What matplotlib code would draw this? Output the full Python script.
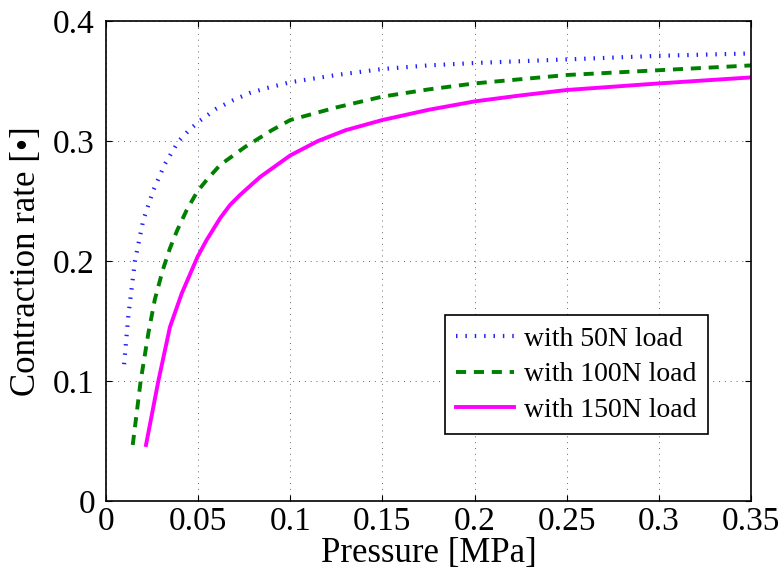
import matplotlib.pyplot as plt
import matplotlib.ticker as mticker

# values
x_50 = [0.0098, 0.0121, 0.0157, 0.0202, 0.0257, 0.032, 0.0392, 0.045, 0.051, 0.06, 0.069,
        0.078, 0.087, 0.1, 0.125, 0.15, 0.175, 0.2, 0.25, 0.3, 0.35]
y_50 = [0.114, 0.154, 0.2, 0.234, 0.259, 0.281, 0.2995, 0.309, 0.317, 0.327, 0.334,
        0.34, 0.344, 0.349, 0.355, 0.36, 0.363, 0.365, 0.368, 0.371, 0.373]

x_100 = [0.0145, 0.0188, 0.023, 0.0265, 0.0308, 0.0347, 0.0387, 0.0438, 0.0495, 0.0546,
         0.0619, 0.0754, 0.09, 0.1, 0.125, 0.15, 0.175, 0.2, 0.25, 0.3, 0.35]
y_100 = [0.0467, 0.1, 0.14, 0.168, 0.1925, 0.2106, 0.2258, 0.2425, 0.2578, 0.2675,
         0.28, 0.295, 0.309, 0.3175, 0.328, 0.337, 0.343, 0.348, 0.355, 0.359, 0.363]

x_150 = [0.0217, 0.0284, 0.0347, 0.0411, 0.0497, 0.0546, 0.0619, 0.0673, 0.0727, 0.0836, 0.1,
         0.115, 0.13, 0.15, 0.175, 0.2, 0.225, 0.25, 0.3, 0.35]
y_150 = [0.0467, 0.1, 0.145, 0.173, 0.2036, 0.2175, 0.2356, 0.2467, 0.255, 0.27, 0.288,
         0.3, 0.309, 0.3175, 0.326, 0.333, 0.338, 0.3425, 0.348, 0.353]

labels = ['with 50N load', 'with 100N load', 'with 150N load']
x_ticks = [0, 0.05, 0.1, 0.15, 0.2, 0.25, 0.3, 0.35]
y_ticks = [0, 0.1, 0.2, 0.3, 0.4]

plt.rcParams['font.family'] = ['Liberation Serif', 'DejaVu Serif']

fig = plt.figure(figsize=(7.83, 5.79), dpi=100)
ax = fig.add_axes([0.1354, 0.1347, 0.8236, 0.829])

ax.plot(x_50, y_50, color='#2020ff', linestyle=(0, (0.35, 1.9)), linewidth=3.0,
        dash_capstyle='butt', dash_joinstyle='round', label=labels[0])
ax.plot(x_100, y_100, color='#008000', linestyle=(0, (2.6, 2.0)), linewidth=2.8,
        dash_capstyle='butt', label=labels[1])
ax.plot(x_150, y_150, color='#ff00ff', linestyle='-', linewidth=2.8, label=labels[2])

ax.set_xlim(0, 0.35)
ax.set_ylim(0, 0.4)
ax.set_xticks(x_ticks)
ax.set_yticks(y_ticks)
ax.xaxis.set_major_formatter(mticker.FormatStrFormatter('%g'))
ax.yaxis.set_major_formatter(mticker.FormatStrFormatter('%g'))
ax.tick_params(direction='in', top=True, right=True, length=4, width=0.8, labelsize=24)
ax.tick_params(axis='x', pad=4)
ax.tick_params(axis='y', pad=8)
ax.grid(True, color='black', linestyle=(0, (1, 5)), linewidth=0.7, alpha=0.6)
for s in ax.spines.values():
    s.set_linewidth(1.2)

ax.set_xlabel('Pressure [MPa]', fontsize=25, labelpad=0)
ax.set_ylabel('Contraction rate [\u2022]', fontsize=25, labelpad=7)

leg = ax.legend(loc='lower right', bbox_to_anchor=(0.933, 0.14), fontsize=20,
                fancybox=False, edgecolor='black', framealpha=1,
                handlelength=2.1, borderpad=0.4, labelspacing=0.36, handletextpad=0.35,
                borderaxespad=0)
leg.get_frame().set_linewidth(1.2)

fig.savefig('out.png', dpi=100)
